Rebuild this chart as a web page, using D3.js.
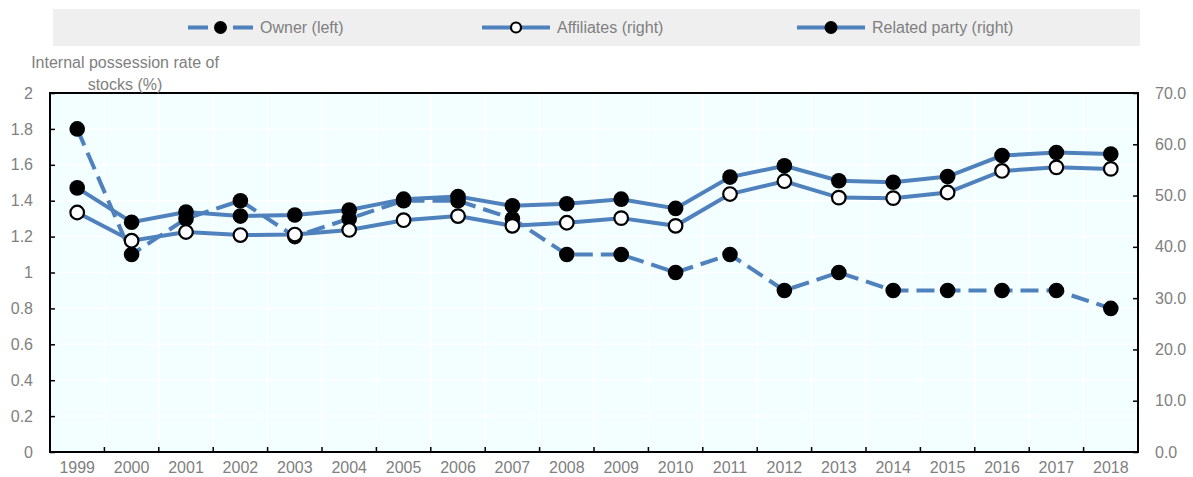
<!DOCTYPE html>
<html>
<head>
<meta charset="utf-8">
<script src="https://cdn.jsdelivr.net/npm/d3@7"></script>
<style>
  body { margin: 0; background: #fff; }
  text { font-family: "Liberation Sans", Arial, sans-serif; }
</style>
</head>
<body>
<div id="chart"></div>
<script>
const years = ["1999","2000","2001","2002","2003","2004","2005","2006","2007","2008",
               "2009","2010","2011","2012","2013","2014","2015","2016","2017","2018"];
const owner = [1.8,1.1,1.3,1.4,1.2,1.3,1.4,1.4,1.3,1.1,1.1,1.0,1.1,0.9,1.0,0.9,0.9,0.9,0.9,0.8];
const affiliates = [46.7,41.2,42.9,42.3,42.4,43.3,45.2,46.0,44.1,44.7,45.6,44.1,50.3,52.8,49.6,49.5,50.6,54.8,55.5,55.2];
const relatedParty = [51.5,44.8,46.8,46.0,46.2,47.2,49.3,49.8,48.0,48.4,49.3,47.5,53.6,55.8,52.9,52.6,53.7,57.8,58.4,58.1];
const leftTicks = [0,0.2,0.4,0.6,0.8,1,1.2,1.4,1.6,1.8,2];
const rightTicks = [0,10,20,30,40,50,60,70];
const axisTitle = ["Internal possession rate of", "stocks (%)"];
const legendLabels = ["Owner (left)", "Affiliates (right)", "Related party (right)"];

const W = 1193, H = 477;
const margin = { top: 93, right: 55, bottom: 25, left: 50 },
    width = W - margin.left - margin.right,
    height = H - margin.top - margin.bottom;

const blue = "#4f81bd", grey = "#808080";

const svg = d3.select("#chart").append("svg")
    .attr("width", W).attr("height", H);

const g = svg.append("g").attr("transform", `translate(${margin.left},${margin.top})`);

const x = d3.scaleBand().domain(years).range([0, width]);
const yL = d3.scaleLinear().domain([0, 2]).range([height, 0]);
const yR = d3.scaleLinear().domain([0, 70]).range([height, 0]);

// Plot background
g.append("rect").attr("width", width).attr("height", height).attr("fill", "#f2feff");

// Gridlines
g.selectAll(".hgrid").data(leftTicks.slice(1, -1)).enter().append("line")
    .attr("x1", 0).attr("x2", width)
    .attr("y1", d => yL(d)).attr("y2", d => yL(d))
    .attr("stroke", "#fff").attr("stroke-width", 1.5);
g.selectAll(".vgrid").data(years.slice(1)).enter().append("line")
    .attr("x1", d => x(d)).attr("x2", d => x(d))
    .attr("y1", 0).attr("y2", height)
    .attr("stroke", "#fff").attr("stroke-width", 1.5);

// Axes
const leftAxis = g.append("g")
    .call(d3.axisLeft(yL).tickValues(leftTicks).tickSize(-5).tickPadding(17).tickFormat(d3.format("")));
const rightAxis = g.append("g").attr("transform", `translate(${width},0)`)
    .call(d3.axisRight(yR).tickValues(rightTicks).tickSize(-5).tickPadding(17).tickFormat(d3.format(".1f")));
const bottomAxis = g.append("g").attr("transform", `translate(0,${height})`)
    .call(d3.axisBottom(x).tickSize(0).tickPadding(10));

// x-axis tick marks on band boundaries
g.selectAll(".xtick").data(years.slice(1)).enter().append("line")
    .attr("x1", d => x(d)).attr("x2", d => x(d))
    .attr("y1", height).attr("y2", height - 5)
    .attr("stroke", "#000").attr("stroke-width", 1.5);

[leftAxis, rightAxis, bottomAxis].forEach(a => {
    a.select(".domain").remove();
    a.selectAll("line").attr("stroke", "#000").attr("stroke-width", 1.5);
    a.selectAll("text").attr("fill", grey).style("font-size", "16px")
        .style("font-family", "'Liberation Sans', Arial, sans-serif");
});
rightAxis.selectAll("text").attr("text-anchor", "start");

// Frame
g.append("rect").attr("width", width).attr("height", height)
    .attr("fill", "none").attr("stroke", "#000").attr("stroke-width", 2);

// Lines
const lineL = d3.line().x((d, i) => x(years[i]) + x.bandwidth() / 2).y(d => yL(d));
const lineR = d3.line().x((d, i) => x(years[i]) + x.bandwidth() / 2).y(d => yR(d));

const series = [
    { data: owner, line: lineL, y: yL, dash: "18,8", fill: "#000" },
    { data: affiliates, line: lineR, y: yR, dash: null, fill: "#fff" },
    { data: relatedParty, line: lineR, y: yR, dash: null, fill: "#000" }
];

series.forEach(s => {
    g.append("path").datum(s.data)
        .attr("d", s.line)
        .attr("fill", "none")
        .attr("stroke", blue)
        .attr("stroke-width", 4)
        .attr("stroke-dasharray", s.dash);
});
series.forEach(s => {
    g.selectAll(null).data(s.data).enter().append("circle")
        .attr("cx", (d, i) => x(years[i]) + x.bandwidth() / 2)
        .attr("cy", d => s.y(d))
        .attr("r", s.fill === "#fff" ? 6.8 : 7.8)
        .attr("fill", s.fill)
        .attr("stroke", "#000")
        .attr("stroke-width", s.fill === "#fff" ? 2.2 : 0);
});

// Axis title
svg.append("text")
    .attr("text-anchor", "middle")
    .attr("fill", grey)
    .style("font-size", "16px")
    .selectAll("tspan").data(axisTitle).enter().append("tspan")
    .attr("x", 125).attr("y", (d, i) => i === 0 ? 68 : 90)
    .text(d => d);

// Legend
svg.append("rect").attr("x", 53).attr("y", 9).attr("width", 1087).attr("height", 37).attr("fill", "#efefef");

const legendX = [188, 482, 797];
const legend = svg.append("g");
legendLabels.forEach((label, i) => {
    const x0 = legendX[i], len = i === 0 ? 65 : 68, cx = x0 + len / 2;
    if (i === 0) {
        legend.append("line").attr("x1", x0).attr("x2", x0 + 20).attr("y1", 27.5).attr("y2", 27.5)
            .attr("stroke", blue).attr("stroke-width", 4);
        legend.append("line").attr("x1", x0 + len - 20).attr("x2", x0 + len).attr("y1", 27.5).attr("y2", 27.5)
            .attr("stroke", blue).attr("stroke-width", 4);
    } else {
        legend.append("line").attr("x1", x0).attr("x2", x0 + len).attr("y1", 27.5).attr("y2", 27.5)
            .attr("stroke", blue).attr("stroke-width", 4);
    }
    legend.append("circle")
        .attr("cx", cx).attr("cy", 27.5)
        .attr("r", i === 1 ? 5 : 6.5)
        .attr("fill", i === 1 ? "#fff" : "#000").attr("stroke", "#000")
        .attr("stroke-width", i === 1 ? 2.2 : 0);
    legend.append("text")
        .attr("x", x0 + len + 7).attr("y", 33)
        .attr("fill", grey)
        .style("font-size", "16px")
        .text(label);
});
</script>
</body>
</html>
